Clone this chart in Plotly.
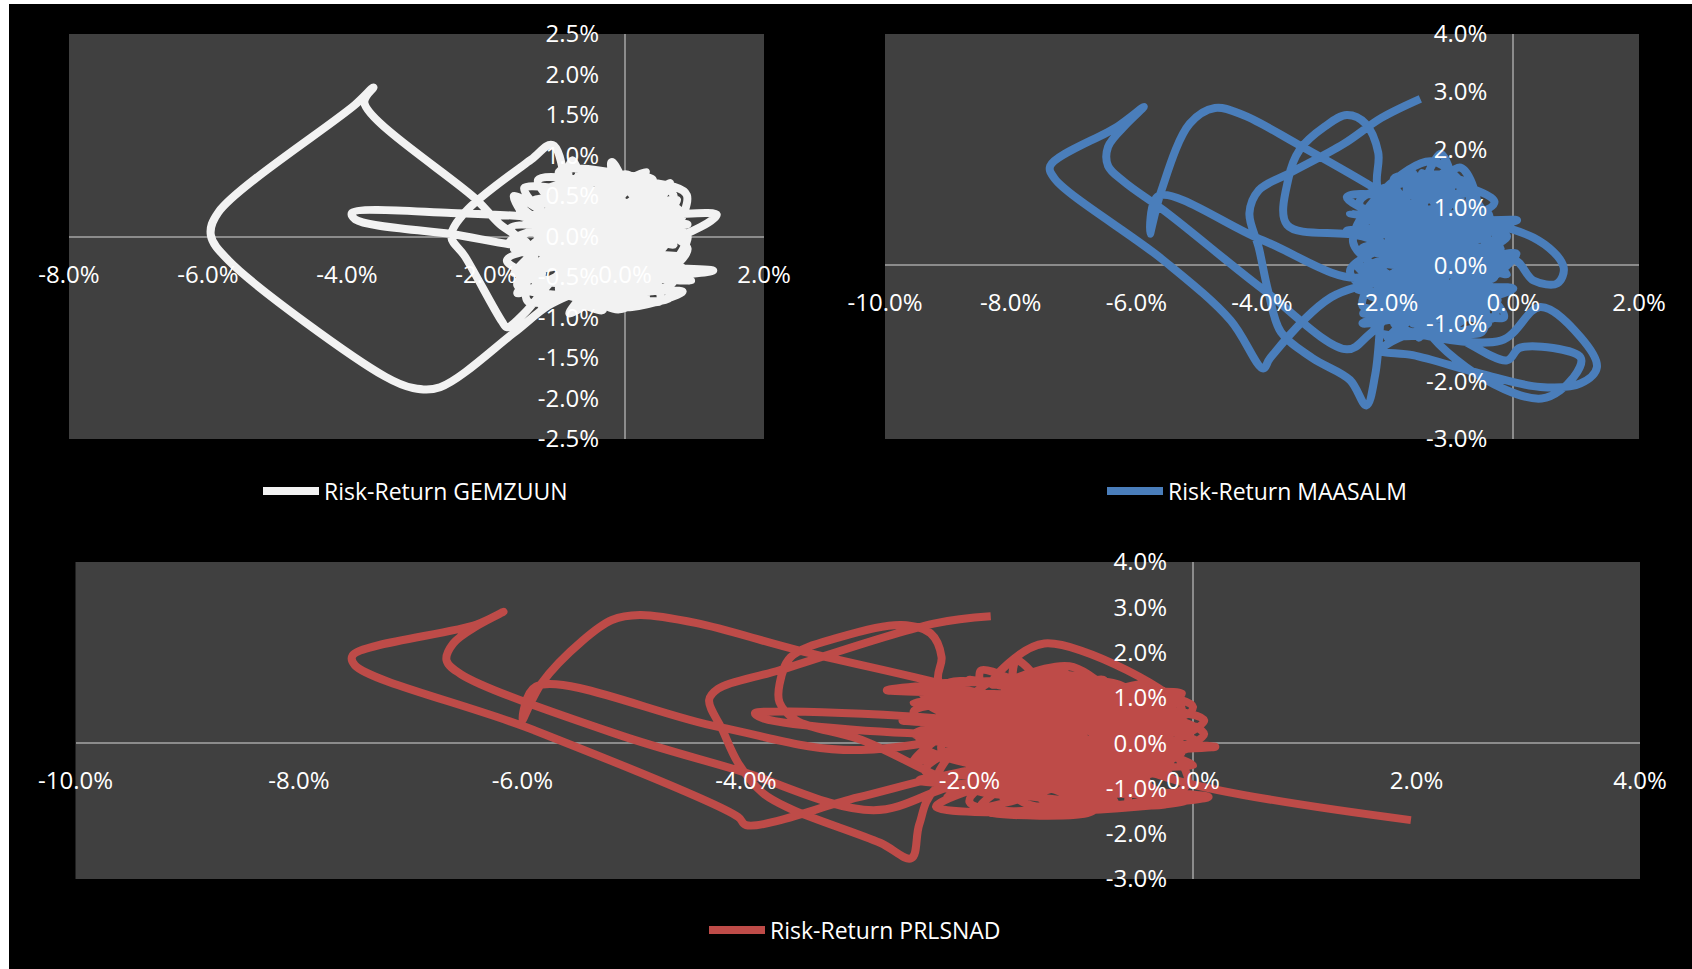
import plotly.graph_objects as go

W, H = 1692, 969

# ---------------- data (risk %, return %) ----------------
gemzuun_points = [
    (-0.6, 0.2), (0.5, 0.55), (-1.3, 0.45), (0.7, 0.35), (-1.5, 0.25), (0.9, 0.15),
    (-1.4, 0.05), (1.32, 0.27), (0.6, -0.05), (-1.6, -0.15), (0.8, -0.25), (-1.5, -0.35),
    (1.27, -0.42), (0.4, -0.5), (-1.3, -0.55), (0.6, -0.65), (-1.2, -0.75), (0.83, -0.68),
    (0.1, -0.87), (-0.7, -0.8), (-0.32, -0.91), (-0.9, -0.4), (-0.2, 0.65), (-0.19, 0.92),
    (0.2, 0.45), (0.65, 0.66), (0.0, 0.1), (-0.8, 0.7), (-0.76, 0.94), (-0.4, 0.3),
    (0.3, -0.3), (0.89, 0.51), (0.2, 0.7), (-0.03, 0.76), (-0.5, -0.2), (-1.0, 0.55),
    (-1.1, 0.6), (0.4, 0.7), (-1.55, -0.6), (0.7, -0.55), (-0.9, 0.65), (0.85, 0.05),
    (-1.65, 0.1), (0.5, -0.8), (-0.6, 0.75), (-1.2, -0.85), (0.75, 0.45), (-1.45, -0.2),
    (0.1, 0.6), (-0.4, -0.85), (0.9, -0.15), (-1.5, 0.4), (0.3, -0.75), (-0.95, -0.65),
    (0.6, 0.6), (-1.3, 0.2), (0.85, -0.4), (-0.7, -0.3), (-0.1, 0.55), (-1.6, -0.45),
    (0.45, 0.3), (-0.2, -0.75), (-1.0, 0.35), (0.7, -0.1), (-0.5, 0.55), (-1.35, -0.3),
    (0.25, 0.15), (-0.85, -0.1), (0.55, -0.35), (-0.3, 0.2), (-1.1, -0.2), (0.0, -0.5),
    (-1.25, 0.7), (0.8, 0.3), (-1.7, -0.3), (0.65, -0.75), (-0.55, 0.8), (-1.4, -0.8),
    (0.9, 0.0), (-0.1, -0.9), (-1.6, 0.5), (0.45, -0.6), (-0.95, 0.8), (0.7, 0.5),
    (-1.55, -0.7), (0.3, 0.8), (-1.15, -0.1), (0.95, -0.55), (-0.25, -0.35), (-1.45, 0.6),
    (0.55, 0.1), (-0.8, -0.95), (0.15, 0.25), (-1.65, -0.05), (0.4, -0.2), (-0.6, 0.05),
    (-1.04, 1.13), (-1.35, 0.95), (-2.3, 0.3), (-2.5, 0.0), (-2.3, -0.25), (-1.77, -1.05),
    (-1.7, -1.12), (-1.45, -0.95), (-1.0, -0.5), (-0.3, 0.0), (-1.0, 0.2), (-2.5, 0.29),
    (-3.93, 0.29), (-3.88, 0.21), (-2.5, 0.03), (-1.4, -0.1), (-1.8, 0.15), (-2.13, 0.45),
    (-3.75, 1.65), (-3.62, 1.84), (-3.88, 1.63), (-5.85, 0.3), (-5.96, 0.02), (-5.7, -0.3),
    (-3.45, -1.73), (-3.05, -1.87), (-2.66, -1.86), (-1.6, -1.19), (-1.1, -0.85),
    (-0.5, -0.6), (0.5, 0.0), (-0.8, 0.1), (0.2, -0.7), (-0.2, 0.4), (0.6, 0.2),
    (-1.2, -0.4), (0.35, 0.5), (-0.65, -0.55), (0.15, -0.1), (-0.45, 0.45),
]

maasalm_points = [
    (-1.48, 2.88), (-2.1, 2.55), (-2.7, 2.1), (-3.55, 1.6), (-4.05, 1.3), (-4.2, 0.9),
    (-4.05, 0.3), (-3.9, -0.45), (-3.7, -1.15), (-3.2, -1.6), (-2.6, -1.98), (-2.34, -2.42),
    (-2.2, -1.9), (-2.12, -1.0), (-2.1, -0.3),
    (-1.2, 0.3), (-2.65, 1.18), (-1.0, 1.3), (-1.16, 1.93), (-1.5, 1.1), (-0.84, 1.69),
    (-0.6, 0.9), (-2.0, 0.9), (-0.3, 0.6), (-2.65, 0.6), (0.06, 0.78), (-1.9, 0.35),
    (-0.4, 0.2), (-2.2, 0.05), (-0.5, -0.1), (-2.39, -0.26), (-0.6, -0.4), (-2.1, -0.55),
    (-0.4, -0.7), (-2.39, -0.83), (-0.8, -0.95), (-1.8, -1.2), (-1.2, -0.2), (-1.7, 1.4),
    (-1.4, -1.1), (-0.9, 1.5), (-1.96, 1.3), (-0.5, 0.0),
    (-2.3, 1.0), (-0.5, 0.5), (-2.4, 0.3), (-0.3, -0.2), (-2.3, -0.5), (-0.4, -1.0),
    (-2.2, -1.1), (-1.0, 1.1), (-1.9, -0.9), (-0.6, 1.2), (-2.4, 0.7), (-0.2, 0.3),
    (-2.0, 1.1), (-0.9, -1.2), (-1.6, 1.6), (-1.3, -0.7), (-2.5, 0.0), (-0.6, -0.6),
    (-1.8, 0.8), (-0.35, 0.0), (-2.2, 0.45), (-0.7, 0.7), (-1.5, -1.25), (-1.1, 1.6),
    (-2.1, -0.2), (-0.5, -0.3), (-1.7, 0.2), (-0.8, -0.8), (-2.3, -0.8), (-1.0, 0.0),
    (-1.4, 1.3), (-1.2, -1.2), (-0.4, 0.9), (-2.0, 0.2), (-1.3, 0.6),
    (-2.6, 0.9), (-0.1, 0.5), (-2.5, -0.4), (0.0, -0.4), (-2.4, -1.0), (-0.2, 0.0),
    (-1.3, 1.8), (-2.55, 0.4), (-0.15, -0.9), (-1.9, 1.5), (-0.3, 1.1), (-2.6, -0.1),
    (-0.5, -1.15), (-1.1, 1.3), (-2.2, -0.3), (0.05, 0.2), (-1.6, -1.0), (-0.7, 1.4),
    (-2.45, 1.1), (-0.25, -0.6), (-1.8, 0.0), (-0.45, 0.75), (-2.0, -1.25), (-0.9, 0.3),
    (-2.3, 0.8), (-0.1, -0.15), (-1.5, 0.9), (-1.0, -0.6), (-2.0, 0.55), (-0.6, 0.2),
    (-1.7, -0.4), (-0.3, -0.9), (-1.2, 1.0), (-2.4, -0.7), (-0.75, -0.2), (-1.45, 1.6),
    (-0.55, 0.45), (-2.1, 1.2), (-1.2, -0.9), (-0.2, 0.65), (-1.9, -0.15), (-0.85, 0.95),
    (-1.35, -0.3), (-0.4, -0.45), (-2.2, 1.0),
    (0.32, 0.48), (0.8, -0.03), (0.7, -0.31), (0.32, -0.26), (0.0, 0.1), (-0.8, -0.5),
    (-1.9, -1.0), (-0.2, -1.3), (0.43, -0.72), (1.07, -1.24), (1.33, -1.76), (1.07, -2.04),
    (0.43, -2.1), (-0.52, -1.87), (-1.6, -1.55), (-2.12, -1.47), (-1.3, -1.1), (-0.1, -1.64),
    (0.11, -1.42), (1.07, -1.59), (0.96, -1.93), (0.45, -2.3), (-0.75, -1.76), (-1.5, -0.8),
    (-1.0, 0.5),
    (-2.23, 1.35), (-3.44, 2.1), (-4.3, 2.6), (-4.75, 2.72), (-5.15, 2.45), (-5.6, 1.3),
    (-5.78, 0.55), (-5.65, 1.2), (-3.98, 0.43), (-2.4, -0.2), (-1.6, 0.7), (-2.15, 1.3),
    (-2.15, 1.95), (-2.35, 2.45), (-2.65, 2.6), (-3.0, 2.4), (-3.4, 2.0), (-3.58, 1.5),
    (-3.6, 0.7), (-2.4, 0.5), (-1.4, 0.0), (-2.9, -0.55), (-3.87, -1.6), (-3.98, -1.78),
    (-4.5, -0.95), (-5.57, 0.09), (-7.3, 1.5), (-7.37, 1.72), (-6.3, 2.4), (-5.88, 2.74),
    (-6.15, 2.45), (-6.45, 2.05), (-6.45, 1.72), (-6.2, 1.45), (-5.5, 0.9), (-4.0, -0.4),
    (-2.65, -1.45), (-2.3, -1.2), (-1.5, -0.3), (-0.8, 0.4), (-1.8, -0.6),
]

prlsnad_points = [
    (-1.81, 2.8), (-2.32, 2.64), (-3.7, 1.61), (-4.25, 1.2), (-4.33, 0.95), (-4.21, 0.29),
    (-4.07, -0.44), (-3.85, -1.1), (-3.6, -1.45), (-2.8, -2.2), (-2.52, -2.54), (-2.45, -1.8),
    (-2.3, -1.0),
    (-0.3, 1.0), (-2.5, 0.9), (0.05, 0.35), (-2.6, 0.5), (-0.1, 0.73), (-1.33, 2.2),
    (-1.8, 1.3), (-1.07, 1.68), (-0.5, 0.2), (-2.45, 0.1), (0.2, -0.08), (-2.42, -0.3),
    (-0.2, -0.4), (-2.45, -0.82), (0.14, -1.19), (-1.84, -1.55), (-0.89, -1.48), (-1.5, -0.5),
    (-1.58, 1.83), (-1.2, 0.4),
    (-2.2, -1.2), (-0.1, 1.1), (-2.5, 0.2), (0.0, -0.5), (-2.3, 1.2), (-0.2, -1.3),
    (-2.4, -0.6), (-0.4, 1.3), (-1.9, -1.4), (0.1, 0.5), (-2.5, 0.7), (-0.6, -1.4),
    (-1.2, 1.6), (-2.3, -0.9), (-0.1, -0.2), (-1.7, 1.1), (-0.9, -1.1), (-2.1, 0.0),
    (-0.3, 0.9), (-1.4, -1.4), (-2.2, 0.9), (0.05, 0.0), (-1.8, -0.7), (-0.7, 0.9),
    (-2.4, -0.1), (-0.5, -0.8), (-1.5, 1.3), (-1.1, -0.5),
    (-2.45, 1.2), (0.0, 0.8), (-2.3, -1.4), (-0.05, -0.9), (-1.1, 1.5), (-2.5, -0.4),
    (-0.5, 1.1), (-1.8, -1.1), (0.1, 0.2), (-2.2, 1.3), (-0.7, -1.3), (-1.6, 0.9),
    (-0.2, -0.7), (-2.35, 0.4), (-1.0, -1.35), (-0.4, 0.7), (-2.0, -0.5), (-1.2, 1.2),
    (-0.6, -0.5), (-2.4, 0.9), (-0.1, 0.6), (-1.5, -0.2), (-0.8, 0.5), (-2.1, -1.0),
    (-0.3, 1.2), (-1.9, 0.6), (-1.0, -0.2), (-0.45, -1.2), (-1.75, 1.4), (-2.25, -0.15),
    (-0.9, 1.0), (-1.45, -0.95), (-0.15, 0.95), (-2.15, 0.25), (-1.25, -0.75), (-0.55, 0.3),
    (-1.65, 0.05), (-0.35, -0.05),
    (-2.02, 1.17), (-3.53, 2.05), (-4.44, 2.65), (-4.95, 2.83), (-5.2, 2.72), (-5.46, 2.27),
    (-5.83, 1.32), (-6.0, 0.51), (-5.88, 1.25), (-4.25, 0.36), (-2.97, -0.15),
    (-1.0, 0.9), (-2.74, 1.17), (-0.6, 1.2), (-2.0, -1.3), (-0.05, -1.26), (-1.0, -0.9),
    (-2.2, 0.7), (-0.3, 0.5),
    (-2.0, 1.4), (-0.2, 0.4), (-1.7, -1.2), (-0.9, 0.2), (-2.3, 0.5), (-0.4, -0.3),
    (-1.3, 0.7), (-1.9, -0.3), (-0.8, -1.2), (-1.6, 0.4), (-0.3, -1.1), (-2.1, 0.8),
    (-2.28, 1.4), (-2.25, 1.9), (-2.35, 2.43), (-2.61, 2.61), (-3.16, 2.34), (-3.6, 1.9),
    (-3.7, 1.3), (-3.7, 0.9), (-3.55, 0.5), (-3.0, 0.1),
    (-1.6, -1.1), (-0.8, 1.4), (-2.1, -0.2), (-0.2, 0.1), (-1.3, -1.3), (-1.9, 1.6),
    (-0.7, -0.2),
    (-2.0, -0.6), (-3.0, -1.2), (-4.0, -1.81), (-4.07, -1.63), (-5.9, 0.29), (-7.5, 1.72),
    (-7.52, 1.94), (-6.41, 2.62), (-6.17, 2.9), (-6.4, 2.6), (-6.62, 2.2), (-6.68, 1.83),
    (-6.55, 1.52), (-5.17, 0.21), (-4.07, -0.6), (-2.86, -1.48), (-2.02, -0.88),
    (-0.4, -1.0), (-1.4, 1.0), (-2.3, 0.3),
    (-2.0, 0.45), (-3.92, 0.66), (-3.85, 0.55), (-2.0, 0.2),
    (-0.6, 0.6), (-1.5, -0.8), (-0.3, -0.6), (-1.1, 0.1), (-0.15, -0.82), (1.95, -1.7),
]

series_names = ["Risk-Return GEMZUUN", "Risk-Return MAASALM", "Risk-Return PRLSNAD"]
series_colors = ["#F2F2F2", "#4A7EBB", "#BE4B48"]

# axis ticks (%)
tl_x_ticks = [-8, -6, -4, -2, 0, 2]
tl_y_ticks = [-2.5, -2.0, -1.5, -1.0, -0.5, 0.0, 0.5, 1.0, 1.5, 2.0, 2.5]
tr_x_ticks = [-10, -8, -6, -4, -2, 0, 2]
tr_y_ticks = [-3, -2, -1, 0, 1, 2, 3, 4]
bt_x_ticks = [-10, -8, -6, -4, -2, 0, 2, 4]
bt_y_ticks = [-3, -2, -1, 0, 1, 2, 3, 4]


def lab(v):
    return ("-" if v < 0 else "") + f"{abs(v):.1f}%"


# ---------------- layout geometry (pixels) ----------------
panels = [
    # (x0, x1, y_top, y_bottom, xrange, yrange, xticks, yticks)
    (69, 764, 34, 439, [-8, 2], [-2.5, 2.5], tl_x_ticks, tl_y_ticks),
    (885, 1639, 34, 439, [-10, 2], [-3, 4], tr_x_ticks, tr_y_ticks),
    (75.5, 1640, 562, 879, [-10, 4], [-3, 4], bt_x_ticks, bt_y_ticks),
]

FONT = "Open Sans"
TICK_SIZE = 24
LEG_SIZE = 23
fig = go.Figure()
all_points = [gemzuun_points, maasalm_points, prlsnad_points]
legend_keys = ["legend", "legend2", "legend3"]

for i, (pts, name, col) in enumerate(zip(all_points, series_names, series_colors)):
    sfx = "" if i == 0 else str(i + 1)
    fig.add_trace(go.Scatter(
        x=[p[0] for p in pts], y=[p[1] for p in pts],
        mode="lines", name=name,
        line=dict(color=col, width=8, shape="spline", smoothing=1.0),
        xaxis="x" + sfx, yaxis="y" + sfx, legend=legend_keys[i],
        hoverinfo="skip",
    ))

layout = dict(
    width=W, height=H,
    margin=dict(l=0, r=0, t=0, b=0, pad=0, autoexpand=False),
    paper_bgcolor="#000000", plot_bgcolor="#404040",
    font=dict(family=FONT, color="#FFFFFF", size=LEG_SIZE),
    showlegend=True,
)

for i, (x0, x1, yt, yb, xr, yr, xt, yt_ticks) in enumerate(panels):
    sfx = "" if i == 0 else str(i + 1)
    xd = [x0 / W, x1 / W]
    yd = [1 - yb / H, 1 - yt / H]
    # positions of the zero-crossing axes
    ypos = yd[0] + (0 - yr[0]) / (yr[1] - yr[0]) * (yd[1] - yd[0])
    xpos = xd[0] + (0 - xr[0]) / (xr[1] - xr[0]) * (xd[1] - xd[0])
    layout["xaxis" + sfx] = dict(
        domain=xd, range=xr, anchor="free", position=ypos, automargin=False,
        tickvals=xt, ticktext=[lab(v) for v in xt],
        showgrid=False, zeroline=True, zerolinecolor="#8C8C8C", zerolinewidth=1.5,
        showline=False, ticks="", ticklabelstandoff=21,
        tickfont=dict(family=FONT, color="#FFFFFF", size=TICK_SIZE), fixedrange=True,
    )
    layout["yaxis" + sfx] = dict(
        domain=yd, range=yr, anchor="free", position=xpos, automargin=False,
        tickvals=yt_ticks, ticktext=[lab(v) for v in yt_ticks],
        showgrid=False, zeroline=True, zerolinecolor="#8C8C8C", zerolinewidth=1.5,
        showline=False, ticks="", ticklabelstandoff=26,
        tickfont=dict(family=FONT, color="#FFFFFF", size=TICK_SIZE), fixedrange=True,
    )

legend_pos = [(258, 491), (1102, 491), (704, 930)]
for key, (lx, ly) in zip(legend_keys, legend_pos):
    layout[key] = dict(
        x=lx / W, y=1 - ly / H, xanchor="left", yanchor="middle",
        bgcolor="rgba(0,0,0,0)", borderwidth=0, itemwidth=56,
        font=dict(family=FONT, color="#FFFFFF", size=LEG_SIZE),
    )

layout["shapes"] = [
    dict(type="rect", xref="paper", yref="paper", x0=0, x1=9 / W, y0=0, y1=1,
         fillcolor="#FFFFFF", line=dict(width=0), layer="below"),
    dict(type="rect", xref="paper", yref="paper", x0=0, x1=1, y0=1 - 4 / H, y1=1,
         fillcolor="#FFFFFF", line=dict(width=0), layer="below"),
]

fig.update_layout(**layout)
fig.write_html("out.html")
